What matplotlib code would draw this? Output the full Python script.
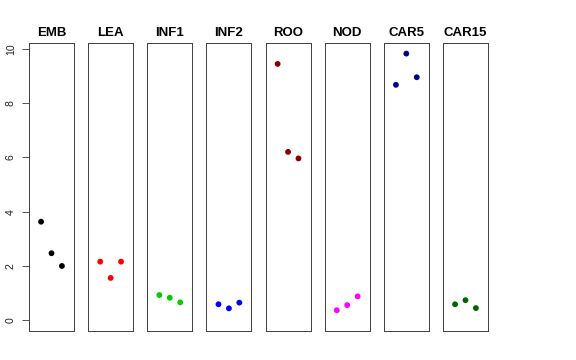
import matplotlib
matplotlib.use("Agg")
import matplotlib.pyplot as plt

categories = ["EMB", "LEA", "INF1", "INF2", "ROO", "NOD", "CAR5", "CAR15"]
values = {
    "EMB":   [3.63, 2.47, 2.00],
    "LEA":   [2.16, 1.56, 2.16],
    "INF1":  [0.93, 0.83, 0.66],
    "INF2":  [0.59, 0.44, 0.65],
    "ROO":   [9.44, 6.20, 5.96],
    "NOD":   [0.37, 0.56, 0.88],
    "CAR5":  [8.67, 9.82, 8.95],
    "CAR15": [0.59, 0.74, 0.45],
}
colors = ["#000000", "#FF0000", "#00CD00", "#0000FF", "#8B0000", "#FF00FF", "#00008B", "#006400"]
yticks = [0, 2, 4, 6, 8, 10]
reps = [1, 2, 3]

plt.rcParams['font.family'] = ['Liberation Sans', 'DejaVu Sans']
W, H = 576, 360
fig = plt.figure(figsize=(W / 72, H / 72), dpi=72)

left0, step, pw = 29, 59.14, 45
top, bottom = 43, 331
ymin, ymax = -0.394, 10.21

for i, cat in enumerate(categories):
    x0 = left0 + i * step
    ax = fig.add_axes([x0 / W, 1 - bottom / H, pw / W, (bottom - top) / H])
    ax.scatter(reps, values[cat], s=34, color=colors[i], edgecolors='none', zorder=3)
    ax.set_xlim(-0.16, 4.16)
    ax.set_ylim(ymin, ymax)
    ax.set_xticks([])
    ax.set_title(cat, fontsize=13.2, fontweight='bold', pad=7)
    for sp in ax.spines.values():
        sp.set_color('#444444')
        sp.set_linewidth(1.0)
    if i == 0:
        ax.set_yticks(yticks)
        ax.set_yticklabels([str(t) for t in yticks], rotation=90, va='center', fontsize=10.5,
                           color='#222222')
        ax.tick_params(axis='y', length=7, width=1.0, color='#555555', pad=6)
    else:
        ax.set_yticks([])

fig.savefig("out.png", dpi=72)
